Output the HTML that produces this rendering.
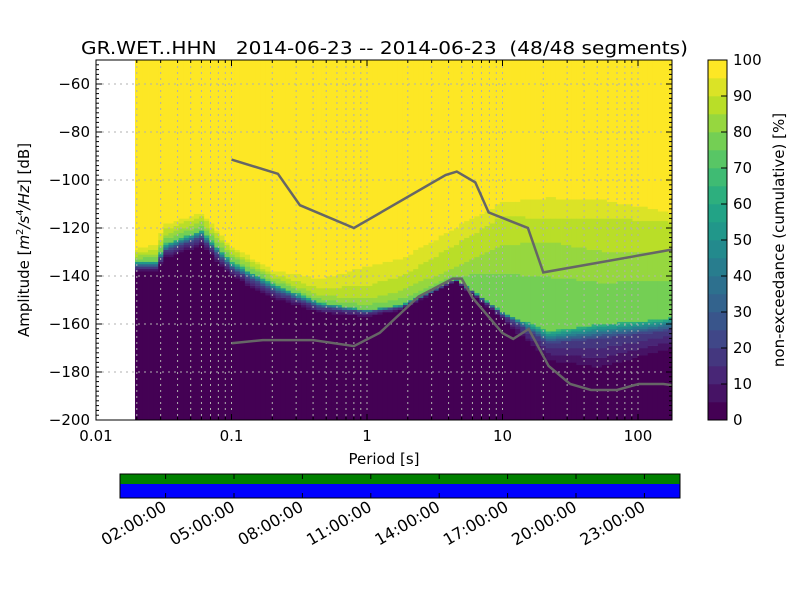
<!DOCTYPE html>
<html><head><meta charset="utf-8"><style>
body{margin:0;background:#fff;}
svg text{font-family:"DejaVu Sans","Liberation Sans",sans-serif;fill:#000;}
</style></head><body>
<svg id="chart" width="800" height="600" viewBox="0 0 800 600" xmlns="http://www.w3.org/2000/svg">
<defs><clipPath id="plotclip"><rect x="96" y="60" width="576" height="360"/></clipPath></defs>
<rect width="800" height="600" fill="#fff"/>
<text x="81" y="54" font-size="18" textLength="607" lengthAdjust="spacingAndGlyphs" xml:space="preserve">GR.WET..HHN   2014-06-23 -- 2014-06-23  (48/48 segments)</text>
<g id="heat" clip-path="url(#plotclip)"></g>
<g id="grid"></g>
<g id="noise" clip-path="url(#plotclip)"></g>
<rect x="96" y="60" width="576" height="360" fill="none" stroke="#000" stroke-width="1"/>
<g id="axes"></g>
<text x="384" y="464" font-size="15" text-anchor="middle">Period [s]</text>
<text transform="translate(29,240) rotate(-90)" font-size="15" text-anchor="middle">Amplitude [<tspan font-style="italic">m</tspan><tspan font-size="10" dy="-6">2</tspan><tspan dy="6" font-style="italic">/s</tspan><tspan font-size="10" dy="-6">4</tspan><tspan dy="6" font-style="italic">/Hz</tspan>] [dB]</text>
<g id="cbar"></g>
<text transform="translate(784,240) rotate(-90)" font-size="15" text-anchor="middle">non-exceedance (cumulative) [%]</text>
<g id="timeline"></g>
</svg>
<script>
// ---- data ----
const ctrlPeriods = [0.0195,0.029,0.031,0.06,0.1,0.2,0.45,1,1.8,4.5,10,22,52,150,181];
const pTop0   = [-138.3,-138,-133,-127,-140,-149,-155,-157,-154,-142,-158,-175,-178,-171,-170];
const pLev20  = [-136,-136,-130,-124,-137,-146,-153,-155,-153,-141.5,-156,-168,-166,-163,-162];
const pLev50  = [-134,-134,-127,-121,-134,-143,-151,-154,-152,-141,-155,-163,-160,-158,-157];
const pLev75  = [-132,-131,-124,-118,-131,-141,-149,-151,-148,-139,-131,-129,-134,-134,-134];
const pLev85  = [-130,-129,-121,-115,-129,-139,-145,-144,-140,-127,-115,-116,-116,-117,-118];
const pLev100 = [-128,-126,-118,-113,-127,-137,-139.5,-133,-130,-117,-107,-104,-105,-111,-113];
const segStart = [5,20,76,84,90];
const segEnd   = [20,66,82,88,97];
const nhnmPeriods = [0.1,0.22,0.32,0.8,3.8,4.6,6.3,7.9,15.4,20,354.8];
const nhnmDb = [-91.5,-97.4,-110.5,-120,-97.9,-96.5,-101,-113.5,-120,-138.5,-126];
const nlnmPeriods = [0.1,0.17,0.4,0.8,1.24,2.4,4.3,5,6,10,12,15.6,21.9,31.6,45,70,101,154,328];
const nlnmDb = [-168,-166.7,-166.7,-169.2,-163.7,-148.6,-141.1,-141.1,-149,-163.8,-166.2,-162.1,-177.5,-185,-187.5,-187.5,-185,-185,-187.5];
const xTickLabels = ["0.01","0.1","1","10","100"];
const yTickValues = [-60,-80,-100,-120,-140,-160,-180,-200];
const cbarTicks = [0,10,20,30,40,50,60,70,80,90,100];
const timeTickLabels = ["02:00:00","05:00:00","08:00:00","11:00:00","14:00:00","17:00:00","20:00:00","23:00:00"];
const timeTickHours = [2,5,8,11,14,17,20,23];

// ---- scales ----
const NS="http://www.w3.org/2000/svg";
const X = p => 96 + (Math.log10(p)+2)*135.5;
const Y = d => 60 + (-50-d)*2.4;
const vir = ["#440154","#482475","#414487","#355f8d","#2a788e","#21918c","#22a884","#44bf70","#7ad151","#bddf26","#fde725"];
function hex(h){return [1,3,5].map(i=>parseInt(h.substr(i,2),16));}
function viridis(t){t=Math.max(0,Math.min(1,t));const f=t*10,i=Math.min(9,Math.floor(f)),r=f-i;const a=hex(vir[i]),b=hex(vir[i+1]);return "rgb("+a.map((v,k)=>Math.round(v+(b[k]-v)*r)).join(",")+")";}
const binColor = b => viridis(b/19);
function mk(tag,attrs,parent){const e=document.createElementNS(NS,tag);for(const k in attrs)e.setAttribute(k,attrs[k]);parent.appendChild(e);return e;}
function interpLog(ps,vs,p){const lp=Math.log10(p);if(p<=ps[0])return vs[0];for(let i=1;i<ps.length;i++){if(p<=ps[i]){const a=Math.log10(ps[i-1]),b=Math.log10(ps[i]);return vs[i-1]+(vs[i]-vs[i-1])*(lp-a)/(b-a);}}return vs[vs.length-1];}

// ---- heatmap ----
const heat=document.getElementById('heat');
const step=Math.log10(2)/8;
for(let lp=Math.log10(0.0195);lp<Math.log10(200);lp+=step){
  const p=Math.pow(10,lp);
  const th=[pTop0,pLev20,pLev50,pLev75,pLev85,pLev100].map(a=>interpLog(ctrlPeriods,a,p));
  const x0=X(Math.pow(10,lp-step/2)), x1=X(Math.pow(10,lp+step/2));
  let runStart=-200, runBin=null;
  for(let d=-200; d<=-50; d+=1){
    const c=d+0.5;let v;
    if(d>=-50) v=-1;
    else if(c<th[0]) v=0;
    else if(c>=th[5]) v=100;
    else {v=segStart[0];for(let k=1;k<6;k++){if(c<th[k]){v=segStart[k-1]+(segEnd[k-1]-segStart[k-1])*(c-th[k-1])/(th[k]-th[k-1]);break;}}}
    const b = v<0 ? -1 : Math.min(19,Math.floor(v/5));
    if(runBin===null){runBin=b;runStart=d;continue;}
    if(b!==runBin){
      const r=mk('rect',{x:Math.max(135,x0).toFixed(2),y:Y(d).toFixed(2),width:(x1-Math.max(135,x0)+0.4).toFixed(2),height:(Y(runStart)-Y(d)+0.3).toFixed(2),fill:binColor(runBin)},heat);
      
      
      runBin=b;runStart=d;
    }
  }
}

// ---- grid & axes ----
const grid=document.getElementById('grid'), axes=document.getElementById('axes');
for(let e=-2;e<=2;e++){
  for(let m=1;m<=9;m++){
    const p=m*Math.pow(10,e);const x=X(p);if(x<96||x>672)continue;
    mk('line',{x1:x,y1:60,x2:x,y2:420,stroke:"#b0b0b0","stroke-width":1,"stroke-dasharray":"2,4"},grid);
    const len=m===1?6:3;
    mk('line',{x1:x,y1:420,x2:x,y2:420-len,stroke:"#000"},axes);
    mk('line',{x1:x,y1:60,x2:x,y2:60+len,stroke:"#000"},axes);
  }
  const t=mk('text',{x:X(Math.pow(10,e)),y:441,"font-size":15,"text-anchor":"middle"},axes);
  t.textContent=xTickLabels[e+2];
  
  
}
yTickValues.forEach(v=>{
  const y=Y(v);
  if(v>-200) mk('line',{x1:96,y1:y,x2:672,y2:y,stroke:"#b0b0b0","stroke-width":1,"stroke-dasharray":"2,4"},grid);
  mk('line',{x1:96,y1:y,x2:102,y2:y,stroke:"#000"},axes);
  mk('line',{x1:672,y1:y,x2:666,y2:y,stroke:"#000"},axes);
  const t=mk('text',{x:90,y:y+5,"font-size":15,"text-anchor":"end"},axes);
  t.textContent=String(v).replace('-','\u2212');
  
  
});
for(let v=-200;v<=-50;v+=2){const y=Y(v);mk('line',{x1:96,y1:y,x2:99,y2:y,stroke:"#000"},axes);mk('line',{x1:672,y1:y,x2:669,y2:y,stroke:"#000"},axes);}

// ---- noise models ----
const noise=document.getElementById('noise');
function path(ps,ds){return ps.map((p,i)=>(i?'L':'M')+X(p).toFixed(1)+','+Y(ds[i]).toFixed(1)).join(' ');}
const hl=mk('path',{d:path(nhnmPeriods,nhnmDb),fill:"none",stroke:"#666","stroke-width":2.5},noise);

const ll=mk('path',{d:path(nlnmPeriods,nlnmDb),fill:"none",stroke:"#666","stroke-width":2.5},noise);


// ---- colorbar ----
const cb=document.getElementById('cbar');
for(let b=0;b<20;b++){
  const y1=420-(b+1)*18, h=18;
  const r=mk('rect',{x:708,y:y1,width:19,height:h+0.3,fill:binColor(b)},cb);
  
}
mk('rect',{x:708,y:60,width:19,height:360,fill:"none",stroke:"#000"},cb);
cbarTicks.forEach(v=>{
  const y=420-v*3.6;
  mk('line',{x1:727,y1:y,x2:721,y2:y,stroke:"#000"},cb);
  const t=mk('text',{x:733,y:y+5,"font-size":15},cb);t.textContent=v;
  
});

// ---- timeline ----
const tl=document.getElementById('timeline');
const H = h => 120 + h*22.8;
const g1=mk('rect',{x:120,y:474,width:560,height:10,fill:"#008000"},tl);

const b1=mk('rect',{x:120,y:484,width:560,height:14,fill:"#0000ff"},tl);

mk('rect',{x:120,y:474,width:560,height:24,fill:"none",stroke:"#000"},tl);
timeTickHours.forEach((h,i)=>{
  const x=H(h);
  mk('line',{x1:x,y1:474,x2:x,y2:479,stroke:"#000"},tl);
  mk('line',{x1:x,y1:498,x2:x,y2:493,stroke:"#000"},tl);
  const t=mk('text',{x:x+2,y:510,"font-size":16,"text-anchor":"end",transform:`rotate(-30 ${x+2} 510)`},tl);
  t.textContent=timeTickLabels[i];
  
});
</script>
</body></html>
